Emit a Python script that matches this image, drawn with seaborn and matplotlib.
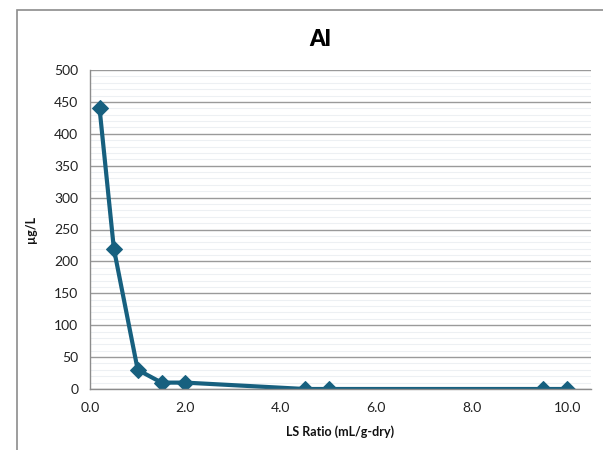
import matplotlib
matplotlib.use("Agg")
import matplotlib.pyplot as plt
import seaborn as sns
import pandas as pd
from matplotlib.patches import Rectangle
from matplotlib.ticker import MultipleLocator

# datos
ls_ratio = [0.2, 0.5, 1.0, 1.5, 2.0, 4.5, 5.0, 9.5, 10.0]
al_ugl = [440, 220, 30, 10, 10, 0, 0, 0, 0]
x_ticks = [0, 2, 4, 6, 8, 10]
y_ticks = [0, 50, 100, 150, 200, 250, 300, 350, 400, 450, 500]

df = pd.DataFrame({"LS": ls_ratio, "Al": al_ugl})

sns.set_style("white")
plt.rcParams["font.family"] = ["Lato", "DejaVu Sans"]

fig = plt.figure(figsize=(6.03, 4.5), dpi=100)
W, H = 603, 450
ax = fig.add_axes([90 / W, 1 - 389 / H, (591 - 90) / W, (389 - 70) / H])

# marco exterior del grafico
fig.patches.append(Rectangle((17 / W, -0.1), 1.2, 1 - 10 / H + 0.1,
                             transform=fig.transFigure, fill=False,
                             edgecolor="#8c8c8c", linewidth=1.2))

color = "#17607f"
sns.lineplot(data=df, x="LS", y="Al", ax=ax, color=color, linewidth=3,
             marker="D", markersize=8, markeredgecolor=color, markerfacecolor=color)

ax.set_xlim(0, 10.5)
ax.set_ylim(0, 500)
ax.set_xticks(x_ticks)
ax.set_xticklabels([f"{v:.1f}" for v in x_ticks])
ax.set_yticks(y_ticks)
ax.yaxis.set_minor_locator(MultipleLocator(10))
ax.grid(axis="y", which="major", color="#9a9a9a", linewidth=1)
ax.grid(axis="y", which="minor", color="#edf0f3", linewidth=0.8)
ax.set_axisbelow(True)

for s in ["top", "right"]:
    ax.spines[s].set_visible(False)
for s in ["left", "bottom"]:
    ax.spines[s].set_color("#8c8c8c")
    ax.spines[s].set_linewidth(1)

ax.tick_params(axis="both", which="major", direction="out", length=5,
               color="#8c8c8c", labelsize=10, labelcolor="#222222")
ax.tick_params(axis="y", which="minor", length=0)
ax.tick_params(axis="x", pad=4)

ax.set_xlabel("")
ax.set_ylabel("")
fig.text(340 / W, 1 - 432 / H, "LS Ratio (mL/g-dry)", ha="center", va="center",
         fontsize=9, fontweight="bold", color="#111111")
fig.text(31 / W, 1 - 230 / H, "µg/L", ha="center", va="center", rotation=90,
         fontsize=9, fontweight="bold", color="#111111")
fig.text(320 / W, 1 - 40 / H, "Al", ha="center", va="center",
         fontsize=16, fontweight="heavy", color="black")

fig.savefig("out.png", dpi=100)
